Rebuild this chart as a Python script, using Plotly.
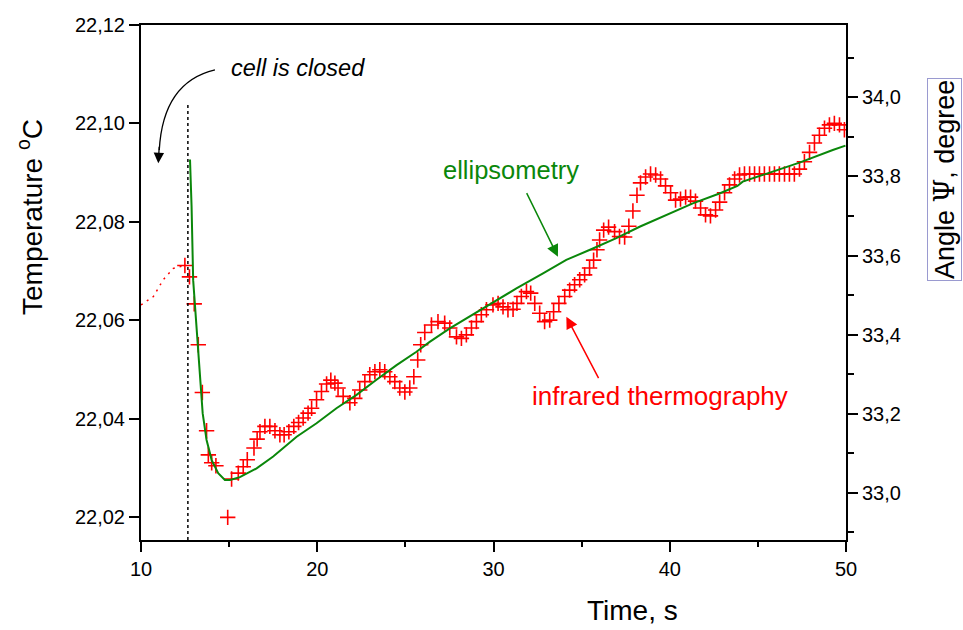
import plotly.graph_objects as go

# ---------------- data ----------------
# infrared thermography (left axis, temperature in degC)
time_ir = [12.49, 12.75, 13.02, 13.25, 13.48, 13.72, 13.82, 14.01, 14.25, 14.92,
           15.14, 15.52, 15.80, 16.03, 16.41, 16.59, 16.75, 17.03, 17.31, 17.60,
           17.88, 18.12, 18.39, 18.67, 18.94, 19.20, 19.48, 19.68, 19.96, 20.24,
           20.53, 20.77, 21.00, 21.18, 21.47, 21.85, 22.13, 22.41, 22.70, 22.98,
           23.27, 23.55, 23.83, 24.12, 24.40, 24.68, 24.97, 25.25, 25.48, 25.70,
           25.87, 26.10, 26.48, 26.85, 27.23, 27.52, 27.90, 28.18, 28.46, 28.75,
           29.03, 29.31, 29.60, 29.97, 30.26, 30.54, 30.82, 31.11, 31.33, 31.58,
           31.87, 32.11, 32.34, 32.62, 32.90, 33.19, 33.41, 33.71, 34.04, 34.32,
           34.60, 34.89, 35.17, 35.45, 35.68, 35.87, 36.02, 36.25, 36.53, 36.87,
           37.15, 37.44, 37.68, 37.91, 38.14, 38.34, 38.63, 38.91, 39.20, 39.48,
           39.76, 40.05, 40.33, 40.61, 40.90, 41.18, 41.46, 41.75, 42.03, 42.31,
           42.60, 42.83, 43.11, 43.39, 43.68, 43.96, 44.24, 44.53, 44.81, 45.09,
           45.37, 45.66, 45.94, 46.22, 46.51, 46.79, 47.07, 47.36, 47.64, 47.93,
           48.21, 48.49, 48.78, 49.06, 49.34, 49.63, 49.91]
temp_ir = [22.0711, 22.0688, 22.0633, 22.0550, 22.0453, 22.0375, 22.0326, 22.0310, 22.0304, 22.0199,
           22.0277, 22.0289, 22.0302, 22.0316, 22.0340, 22.0358, 22.0373, 22.0384, 22.0384, 22.0375,
           22.0367, 22.0367, 22.0373, 22.0384, 22.0392, 22.0401, 22.0411, 22.0421, 22.0438, 22.0455,
           22.0470, 22.0478, 22.0472, 22.0462, 22.0445, 22.0432, 22.0441, 22.0458, 22.0475, 22.0489,
           22.0495, 22.0499, 22.0495, 22.0485, 22.0475, 22.0462, 22.0454, 22.0462, 22.0485, 22.0519,
           22.0550, 22.0575, 22.0590, 22.0597, 22.0594, 22.0584, 22.0566, 22.0563, 22.0570, 22.0584,
           22.0597, 22.0611, 22.0621, 22.0631, 22.0634, 22.0627, 22.0621, 22.0622, 22.0634, 22.0648,
           22.0658, 22.0655, 22.0634, 22.0614, 22.0597, 22.0600, 22.0617, 22.0634, 22.0648, 22.0661,
           22.0672, 22.0682, 22.0692, 22.0706, 22.0722, 22.0743, 22.0763, 22.0783, 22.0789, 22.0780,
           22.0770, 22.0769, 22.0791, 22.0822, 22.0854, 22.0879, 22.0891, 22.0897, 22.0895, 22.0887,
           22.0873, 22.0859, 22.0844, 22.0846, 22.0850, 22.0850, 22.0842, 22.0828, 22.0814, 22.0812,
           22.0824, 22.0840, 22.0859, 22.0875, 22.0887, 22.0895, 22.0897, 22.0897, 22.0897, 22.0897,
           22.0897, 22.0897, 22.0897, 22.0897, 22.0897, 22.0897, 22.0897, 22.0907, 22.0922, 22.0941,
           22.0960, 22.0976, 22.0990, 22.0997, 22.1000, 22.0997, 22.0987]

# thermography before the cell is closed (dotted)
time_pre = [10.0, 10.70, 11.26, 11.83, 12.49]
temp_pre = [22.0631, 22.0648, 22.0682, 22.0705, 22.0711]

# ellipsometry (right axis, angle Psi in degrees)
time_ell = [12.78, 12.87, 12.96, 13.10, 13.21, 13.34, 13.50, 13.72, 14.01, 14.38,
            14.76, 15.05, 15.61, 16.56, 17.50, 18.83, 19.96, 21.09, 22.23, 23.36,
            24.50, 25.63, 26.38, 27.52, 29.40, 31.30, 32.81, 34.13, 35.64, 36.97,
            38.29, 39.80, 41.31, 42.82, 43.84, 44.14, 45.47, 47.36, 49.25, 49.97]
psi_ell = [33.843, 33.724, 33.538, 33.454, 33.370, 33.286, 33.201, 33.134, 33.083, 33.050,
           33.033, 33.033, 33.040, 33.062, 33.092, 33.142, 33.176, 33.214, 33.248, 33.286,
           33.323, 33.357, 33.382, 33.416, 33.467, 33.517, 33.555, 33.589, 33.618, 33.644,
           33.673, 33.703, 33.732, 33.757, 33.776, 33.787, 33.806, 33.835, 33.867, 33.878]

x_ticks = [10, 20, 30, 40, 50]
x_minor = [15, 25, 35, 45]
y_ticks = [22.02, 22.04, 22.06, 22.08, 22.10, 22.12]
y2_ticks = [33.0, 33.2, 33.4, 33.6, 33.8, 34.0]
y2_minor = [32.9, 33.1, 33.3, 33.5, 33.7, 33.9, 34.1]

t_closed = 12.66

FONT = "Liberation Sans, Arial, sans-serif"

fig = go.Figure()
fig.add_trace(go.Scatter(x=time_pre, y=temp_pre, mode="lines",
                         line=dict(color="#ff0000", width=1.5, dash="2px,5px"),
                         hoverinfo="skip"))
fig.add_trace(go.Scatter(x=time_ir, y=temp_ir, mode="markers",
                         marker=dict(symbol="cross-thin", size=11,
                                     line=dict(color="#ff0000", width=1.6))))
fig.add_trace(go.Scatter(x=time_ell, y=psi_ell, mode="lines", yaxis="y2",
                         line=dict(color="#0a870a", width=2)))

axis_common = dict(showline=True, linewidth=2, linecolor="black", showgrid=False,
                   zeroline=False, ticks="outside", ticklen=10, tickwidth=2,
                   tickcolor="black", tickfont=dict(size=20, family=FONT, color="black"))

fig.update_layout(
    width=963, height=630,
    margin=dict(l=141, r=117, t=25, b=90),
    paper_bgcolor="white", plot_bgcolor="white",
    showlegend=False,
    separators=", ",
    font=dict(family=FONT, size=20, color="black"),
    xaxis=dict(range=[10, 50], tickvals=x_ticks, mirror=True,
               minor=dict(tickvals=x_minor, ticks="outside", ticklen=5,
                          tickwidth=2, tickcolor="black"),
               **axis_common),
    yaxis=dict(range=[22.0153, 22.12], tickvals=y_ticks, tickformat=".2f",
               **axis_common),
    yaxis2=dict(range=[32.881, 34.183], tickvals=y2_ticks, tickformat=".1f",
                overlaying="y", side="right",
                minor=dict(tickvals=y2_minor, ticks="outside", ticklen=6,
                           tickwidth=2, tickcolor="black"),
                **axis_common),
)

# vertical dotted line (cell is closed)
fig.add_shape(type="line", xref="x", yref="y", x0=t_closed, x1=t_closed,
              y0=22.0153, y1=22.1041, line=dict(color="black", width=1.5, dash="dot"))

# curved arrow
fig.add_shape(type="path", xref="x", yref="y",
              path="M 14.195 22.1109 Q 11.247 22.1084 11.037 22.0946",
              line=dict(color="black", width=1.3))
fig.add_annotation(x=10.981, y=22.0919, xref="x", yref="y", ax=1, ay=-18,
                   axref="pixel", ayref="pixel", text="", showarrow=True,
                   arrowhead=2, arrowsize=1.6, arrowwidth=1.3, arrowcolor="black",
                   standoff=0)

# green arrow
fig.add_annotation(x=33.657, y=22.0729, xref="x", yref="y", ax=-32, ay=-65,
                   text="", showarrow=True, arrowhead=2, arrowsize=1.6,
                   arrowwidth=1.5, arrowcolor="#0a870a", standoff=0)
# red arrow
fig.add_annotation(x=34.133, y=22.0607, xref="x", yref="y", ax=33, ay=63,
                   text="", showarrow=True, arrowhead=2, arrowsize=1.6,
                   arrowwidth=1.5, arrowcolor="#ff0000", standoff=0)

# text labels
fig.add_annotation(x=18.90, y=22.1113, xref="x", yref="y", showarrow=False,
                   xanchor="center", yanchor="middle",
                   text="<i>cell is closed</i>", font=dict(size=23.5, family=FONT, color="black"))
fig.add_annotation(x=30.98, y=22.0905, xref="x", yref="y", showarrow=False,
                   xanchor="center", yanchor="middle",
                   text="ellipsometry", font=dict(size=25.5, family=FONT, color="#0a870a"))
fig.add_annotation(x=39.42, y=22.0445, xref="x", yref="y", showarrow=False,
                   xanchor="center", yanchor="middle",
                   text="infrared thermography", font=dict(size=26, family=FONT, color="#ff0000"))

# axis titles
fig.add_annotation(x=(632 - 141) / 705, y=(540 - 610) / 515, xref="paper", yref="paper",
                   showarrow=False, text="Time, s", xanchor="center", yanchor="middle",
                   font=dict(size=28, family=FONT, color="black"))
fig.add_annotation(x=(30 - 141) / 705, y=(540 - 217) / 515, xref="paper", yref="paper",
                   showarrow=False, textangle=-90, text="Temperature <sup>o</sup>C",
                   xanchor="center", yanchor="middle",
                   font=dict(size=28, family=FONT, color="black"))
fig.add_annotation(x=(944 - 141) / 705, y=(540 - 180) / 515, xref="paper", yref="paper",
                   showarrow=False, textangle=-90, xanchor="center", yanchor="middle",
                   text="Angle <span style='font-family:DejaVu Serif'>Ψ</span>, degree",
                   font=dict(size=27, family=FONT, color="black"),
                   bordercolor="#9a9ad0", borderwidth=1, borderpad=1, bgcolor="white")

fig.write_html("out.html")
